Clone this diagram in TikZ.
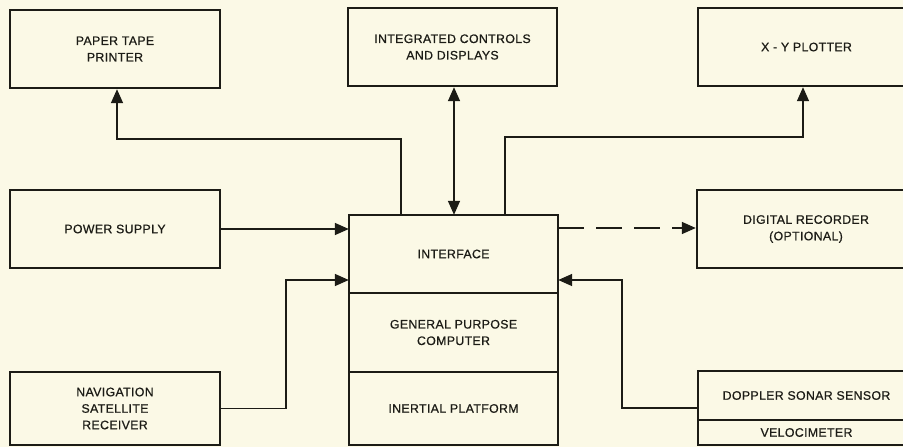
\documentclass[tikz,border=0pt]{standalone}
\usepackage{fontspec}
\setmainfont[LetterSpace=3,FakeBold=0.7]{Liberation Sans}
\usetikzlibrary{arrows.meta}
\definecolor{paper}{RGB}{251,249,230}
\definecolor{ink}{RGB}{28,28,22}
\begin{document}
\begin{tikzpicture}[x=1pt,y=-1pt,
  txt/.style={rectangle, align=center, inner sep=0pt, text=ink,
    font=\fontsize{12.3}{16.5}\selectfont},
  blk/.style={txt, draw=ink, line width=2.4pt},
  part/.style={txt},
  conn/.style={draw=ink, line width=1.5pt, -{Triangle[length=14pt,width=12pt]}},
  dconn/.style={draw=ink, line width=1.5pt, {Triangle[length=14pt,width=12pt]}-{Triangle[length=14pt,width=12pt]}},
  sep/.style={draw=ink, line width=1.8pt},
  outer/.style={draw=ink, line width=2.4pt}]
\fill[paper] (0,0) rectangle (903,447);
\useasboundingbox (0,0) rectangle (903,447);
\clip (0,0) rectangle (903,447);

% top row
\node[blk, minimum width=210pt, minimum height=78pt] (printer) at (115,49) {PAPER TAPE\\PRINTER};
\node[blk, minimum width=209pt, minimum height=78pt] (icd) at (452.5,47) {INTEGRATED CONTROLS\\AND DISPLAYS};
\node[blk, minimum width=217pt, minimum height=78pt] (plotter) at (806.5,47) {X - Y PLOTTER};

% middle row
\node[blk, minimum width=210pt, minimum height=78pt] (power) at (115,229) {POWER SUPPLY};
\node[blk, minimum width=218pt, minimum height=78pt] (recorder) at (806,229) {DIGITAL RECORDER\\(OPTIONAL)};

% central stack
\node[part, minimum width=209pt, minimum height=78pt] (iface) at (453.5,254) {INTERFACE};
\node[part, minimum width=209pt, minimum height=79pt] (gpc) at (453.5,332.5) {GENERAL PURPOSE\\COMPUTER};
\node[part, minimum width=209pt, minimum height=73pt] (inertial) at (453.5,408.5) {INERTIAL PLATFORM};
\draw[sep] (gpc.north west) -- (gpc.north east);
\draw[sep] (inertial.north west) -- (inertial.north east);
\draw[outer] (iface.north west) rectangle (inertial.south east);

% bottom row
\node[blk, minimum width=210pt, minimum height=73pt] (nav) at (115,408.5) {NAVIGATION\\SATELLITE\\RECEIVER};
\node[part, minimum width=217pt, minimum height=49pt] (doppler) at (806.5,395.5) {DOPPLER SONAR SENSOR};
\node[part, minimum width=217pt, minimum height=25pt] (velo) at (806.5,432.5) {VELOCIMETER};
\draw[sep] (velo.north west) -- (velo.north east);
\draw[outer] (doppler.north west) rectangle (velo.south east);

% connectors
\draw[conn] ([xshift=-52.5pt]iface.north) -- ++(0,-76) -| ([xshift=2pt]printer.south);
\draw[conn] ([xshift=51.5pt]iface.north) -- ++(0,-78) -| ([xshift=-3.5pt]plotter.south);
\draw[dconn] ([xshift=1.5pt]icd.south) -- ([xshift=0.5pt]iface.north);
\draw[conn] (power.east) -- (power.east -| iface.west);
\draw[conn] (nav.east) -- ++(65,0) |- ([yshift=-26pt]iface.west);
\draw[conn, dash pattern=on 26pt off 12pt] ([yshift=26pt]iface.east) -- ([yshift=26pt]iface.east -| recorder.west);
\draw[conn] ([yshift=-12.5pt]doppler.west) -- ++(-76,0) |- ([yshift=-26pt]iface.east);
\end{tikzpicture}
\end{document}
